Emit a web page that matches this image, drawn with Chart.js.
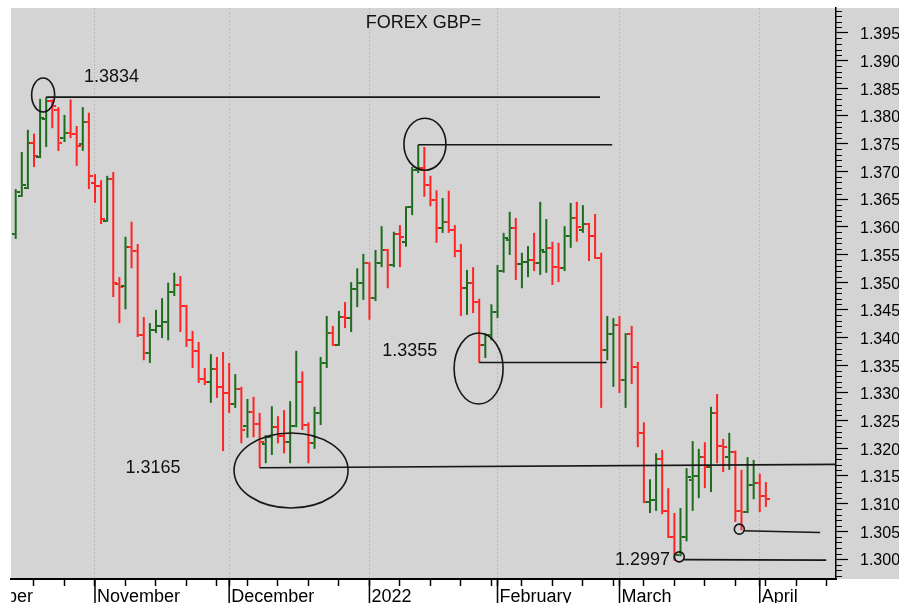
<!DOCTYPE html>
<html lang="en">
<head>
<meta charset="utf-8">
<title>FOREX GBP=</title>
<script src="https://cdn.jsdelivr.net/npm/chart.js@4.4.1/dist/chart.umd.min.js"></script>
<style>
    html, body { margin: 0; padding: 0; background: #ffffff; }
    canvas { display: block; }
</style>
</head>
<body>
<canvas id="graficoGbp" width="899" height="603"></canvas>
<script>
// Primer día hábil con barra (las barras van día hábil a día hábil)
const primerDia = '2021-10-13';

// OHLC diario
const aperturas = [
    1.3587, 1.3656, 1.3670, 1.3751, 1.3726, 1.3795, 1.3827, 1.3811, 1.3760, 1.3769, 1.3768, 1.3750, 1.3789,
    1.3679, 1.3674, 1.3610, 1.3686, 1.3497, 1.3493, 1.3564, 1.3556, 1.3405, 1.3372, 1.3414, 1.3421, 1.3428, 1.3482, 1.3495, 1.3457, 1.3395, 1.3376, 1.3325, 1.3320, 1.3343, 1.3311,
    1.3300, 1.3280, 1.3307, 1.3240, 1.3266, 1.3244, 1.3208, 1.3220, 1.3238, 1.3222, 1.3211, 1.3240, 1.3320, 1.3242, 1.3209, 1.3264, 1.3354, 1.3408, 1.3386, 1.3437, 1.3435, 1.3488, 1.3499,
    1.3534, 1.3471, 1.3534, 1.3558, 1.3531, 1.3587, 1.3573, 1.3636, 1.3703, 1.3706, 1.3675, 1.3648, 1.3598, 1.3609, 1.3594, 1.3556, 1.3489, 1.3499, 1.3464, 1.3386, 1.3405,
    1.3446, 1.3520, 1.3576, 1.3598, 1.3533, 1.3536, 1.3540, 1.3534, 1.3555, 1.3562, 1.3527, 1.3525, 1.3583, 1.3616, 1.3594, 1.3605, 1.3583, 1.3544, 1.3377, 1.3406,
    1.3423, 1.3323, 1.3406, 1.3347, 1.3228, 1.3103, 1.3107, 1.3181, 1.3087, 1.3040, 1.3007, 1.3040, 1.3143, 1.3150, 1.3184, 1.3166, 1.3264, 1.3204, 1.3184, 1.3193, 1.3087, 1.3085, 1.3134,
    1.3137, 1.3114
];
const maximos = [
    1.3668, 1.3735, 1.3775, 1.3768, 1.3831, 1.3834, 1.3830, 1.3816, 1.3802, 1.3830, 1.3782, 1.3816, 1.3806,
    1.3695, 1.3684, 1.3692, 1.3699, 1.3509, 1.3582, 1.3609, 1.3569, 1.3437, 1.3426, 1.3450, 1.3471, 1.3499, 1.3517, 1.3511, 1.3459, 1.3412, 1.3392, 1.3345, 1.3370, 1.3365, 1.3374,
    1.3354, 1.3334, 1.3311, 1.3289, 1.3293, 1.3264, 1.3224, 1.3276, 1.3258, 1.3269, 1.3285, 1.3376, 1.3339, 1.3247, 1.3275, 1.3365, 1.3439, 1.3421, 1.3448, 1.3464, 1.3500, 1.3525, 1.3551,
    1.3536, 1.3558, 1.3601, 1.3560, 1.3591, 1.3603, 1.3637, 1.3708, 1.3748, 1.3744, 1.3692, 1.3666, 1.3652, 1.3665, 1.3603, 1.3569, 1.3522, 1.3527, 1.3470, 1.3408, 1.3460,
    1.3531, 1.3589, 1.3627, 1.3616, 1.3553, 1.3565, 1.3589, 1.3645, 1.3614, 1.3573, 1.3571, 1.3601, 1.3643, 1.3645, 1.3639, 1.3607, 1.3623, 1.3553, 1.3439, 1.3435,
    1.3439, 1.3408, 1.3421, 1.3356, 1.3247, 1.3144, 1.3191, 1.3197, 1.3128, 1.3083, 1.3092, 1.3164, 1.3213, 1.3199, 1.3211, 1.3275, 1.3298, 1.3217, 1.3228, 1.3196, 1.3161, 1.3184, 1.3179,
    1.3154, 1.3139
];
const minimos = [
    1.3578, 1.3654, 1.3668, 1.3708, 1.3724, 1.3744, 1.3778, 1.3737, 1.3753, 1.3760, 1.3710, 1.3737, 1.3668,
    1.3643, 1.3605, 1.3609, 1.3473, 1.3426, 1.3451, 1.3525, 1.3401, 1.3359, 1.3354, 1.3408, 1.3399, 1.3395, 1.3475, 1.3410, 1.3383, 1.3345, 1.3318, 1.3314, 1.3282, 1.3291, 1.3195,
    1.3264, 1.3273, 1.3209, 1.3219, 1.3220, 1.3165, 1.3173, 1.3188, 1.3209, 1.3191, 1.3173, 1.3238, 1.3233, 1.3173, 1.3199, 1.3242, 1.3345, 1.3385, 1.3385, 1.3417, 1.3410, 1.3455, 1.3468,
    1.3432, 1.3466, 1.3527, 1.3489, 1.3527, 1.3527, 1.3564, 1.3621, 1.3697, 1.3654, 1.3637, 1.3571, 1.3589, 1.3589, 1.3545, 1.3439, 1.3441, 1.3444, 1.3355, 1.3363, 1.3395,
    1.3435, 1.3517, 1.3549, 1.3504, 1.3489, 1.3509, 1.3520, 1.3513, 1.3517, 1.3495, 1.3500, 1.3520, 1.3562, 1.3573, 1.3589, 1.3538, 1.3542, 1.3273, 1.3359, 1.3311,
    1.3300, 1.3273, 1.3316, 1.3202, 1.3101, 1.3083, 1.3087, 1.3081, 1.3038, 1.2997, 1.3005, 1.3032, 1.3087, 1.3110, 1.3128, 1.3121, 1.3173, 1.3157, 1.3161, 1.3067, 1.3052, 1.3083, 1.3108,
    1.3085, 1.3094
];
const cierres = [
    1.3663, 1.3675, 1.3751, 1.3728, 1.3797, 1.3827, 1.3818, 1.3751, 1.3769, 1.3768, 1.3746, 1.3789, 1.3692,
    1.3674, 1.3614, 1.3686, 1.3499, 1.3491, 1.3564, 1.3556, 1.3405, 1.3372, 1.3414, 1.3421, 1.3428, 1.3482, 1.3495, 1.3457, 1.3395, 1.3376, 1.3325, 1.3320, 1.3343, 1.3311, 1.3300,
    1.3280, 1.3307, 1.3233, 1.3266, 1.3244, 1.3211, 1.3220, 1.3238, 1.3222, 1.3211, 1.3240, 1.3320, 1.3242, 1.3209, 1.3264, 1.3354, 1.3408, 1.3386, 1.3437, 1.3435, 1.3488, 1.3499, 1.3534,
    1.3471, 1.3534, 1.3558, 1.3531, 1.3587, 1.3582, 1.3636, 1.3703, 1.3706, 1.3675, 1.3648, 1.3598, 1.3609, 1.3594, 1.3556, 1.3489, 1.3499, 1.3464, 1.3386, 1.3405, 1.3446,
    1.3520, 1.3580, 1.3598, 1.3533, 1.3536, 1.3540, 1.3534, 1.3558, 1.3562, 1.3527, 1.3525, 1.3583, 1.3616, 1.3600, 1.3605, 1.3583, 1.3544, 1.3377, 1.3406, 1.3423,
    1.3323, 1.3406, 1.3347, 1.3228, 1.3103, 1.3107, 1.3181, 1.3087, 1.3040, 1.3007, 1.3040, 1.3148, 1.3150, 1.3184, 1.3166, 1.3264, 1.3204, 1.3202, 1.3193, 1.3087, 1.3085, 1.3134, 1.3137,
    1.3114, 1.3108
];

// Eje temporal
const inicioMeses = ['2021-10-01', '2021-11-01', '2021-12-01', '2022-01-03', '2022-02-01', '2022-03-01', '2022-04-01'];
const etiquetasMeses = ['October', 'November', 'December', '2022', 'February', 'March', 'April'];
const primerLunes = '2021-10-11';
const ultimoLunes = '2022-04-18';

// Eje de precios
const ticksY = [1.300, 1.305, 1.310, 1.315, 1.320, 1.325, 1.330, 1.335, 1.340, 1.345,
                1.350, 1.355, 1.360, 1.365, 1.370, 1.375, 1.380, 1.385, 1.390, 1.395];

const titulo = 'FOREX GBP=';

// Anotaciones dibujadas a mano en el original (x en días hábiles, y en precio)
const lineasRef = [
    [5, 1.3834, 95.8, 1.3834],
    [66, 1.3748, 97.8, 1.3748],
    [76, 1.3355, 96.9, 1.3355],
    [40, 1.3165, 134.5, 1.3171],
    [119.3, 1.3051, 131.9, 1.3048],
    [109.5, 1.2999, 132.9, 1.2998]
];
const elipses = [
    [4.5, 1.3838, 11.5, 17],
    [67.1, 1.3749, 21, 26],
    [75.9, 1.3344, 24.5, 35.5],
    [45.15, 1.3160, 57, 37.5],
    [118.65, 1.3054, 5, 5],
    [108.8, 1.3004, 5, 5]
];
const textos = [
    ['1.3834', 11.2, 1.3871, 'left'],
    ['1.3355', 60.1, 1.3376, 'left'],
    ['1.3165', 18.0, 1.3165, 'left'],
    ['1.2997', 107.3, 1.2999, 'right']
];

const verde = '#1d6b1d';
const rojo = '#ff2424';
const fuente = 'Arial, "Liberation Sans", sans-serif';

// cuenta días hábiles desde primerDia (negativo si la fecha es anterior)
function indiceHabil(fecha) {
    const base = new Date(primerDia + 'T00:00:00Z');
    const fin = new Date(fecha + 'T00:00:00Z');
    const paso = fin >= base ? 1 : -1;
    const d = new Date(base);
    let n = 0;
    while (d.getTime() !== fin.getTime()) {
        d.setUTCDate(d.getUTCDate() + paso);
        const dia = d.getUTCDay();
        if (dia !== 0 && dia !== 6) n += paso;
    }
    return n;
}

const lunes = [];
for (let d = new Date(primerLunes + 'T00:00:00Z'); d <= new Date(ultimoLunes + 'T00:00:00Z'); d.setUTCDate(d.getUTCDate() + 7)) {
    lunes.push(d.toISOString().slice(0, 10));
}
const posMeses = inicioMeses.map(indiceHabil);
const ticksX = [...new Set(lunes.map(indiceHabil).concat(posMeses))].sort((a, b) => a - b);

// marcas de apertura (izquierda) y cierre (derecha)
function crearMarca(lado, color) {
    const c = document.createElement('canvas');
    c.width = 8;
    c.height = 2;
    const g = c.getContext('2d');
    g.fillStyle = color;
    g.fillRect(lado === 'izq' ? 0 : 5, 0, 3, 2);
    return c;
}
const marcas = {
    aperturaVerde: crearMarca('izq', verde),
    aperturaRoja: crearMarca('izq', rojo),
    cierreVerde: crearMarca('der', verde),
    cierreRojo: crearMarca('der', rojo)
};

const indices = aperturas.map((_, i) => i);
const subida = indices.map(i => cierres[i] >= aperturas[i]);
const colores = subida.map(s => s ? verde : rojo);

// Fondo gris del área del gráfico y del eje de precios
const fondo = {
    id: 'fondo',
    beforeDraw(chart) {
        const { ctx, chartArea } = chart;
        ctx.save();
        ctx.fillStyle = '#ffffff';
        ctx.fillRect(0, 0, chart.width, chart.height);
        ctx.fillStyle = '#d4d4d4';
        ctx.fillRect(chartArea.left, chartArea.top, chart.width - chartArea.left, chartArea.bottom - chartArea.top);
        ctx.restore();
    }
};

// Líneas, elipses, textos y título
const notas = {
    id: 'notas',
    afterDatasetsDraw(chart) {
        const { ctx, chartArea, scales: { x, y } } = chart;
        ctx.save();
        ctx.strokeStyle = '#161616';
        ctx.lineWidth = 1.6;
        lineasRef.forEach(([x1, y1, x2, y2]) => {
            ctx.beginPath();
            ctx.moveTo(x.getPixelForValue(x1), y.getPixelForValue(y1));
            ctx.lineTo(x.getPixelForValue(x2), y.getPixelForValue(y2));
            ctx.stroke();
        });
        elipses.forEach(([cx, cy, rx, ry]) => {
            ctx.beginPath();
            ctx.ellipse(x.getPixelForValue(cx), y.getPixelForValue(cy), rx, ry, 0, 0, Math.PI * 2);
            ctx.stroke();
        });
        ctx.fillStyle = '#111111';
        ctx.font = '18px ' + fuente;
        ctx.textBaseline = 'middle';
        textos.forEach(([t, tx, ty, alin]) => {
            ctx.textAlign = alin;
            ctx.fillText(t, x.getPixelForValue(tx), y.getPixelForValue(ty));
        });
        ctx.textAlign = 'center';
        ctx.fillText(titulo, (chartArea.left + chartArea.right) / 2, chartArea.top + 15);
        ctx.restore();
    }
};

// Marcas menores del eje de precios y separadores de mes bajo el eje
const ejes = {
    id: 'ejes',
    afterDraw(chart) {
        const { ctx, chartArea: a, scales: { x, y } } = chart;
        ctx.save();
        ctx.strokeStyle = '#000000';
        ctx.lineWidth = 1;
        for (let m = Math.ceil(y.min * 1000); m <= Math.floor(y.max * 1000); m++) {
            if (m % 5 === 0) continue;
            const py = Math.round(y.getPixelForValue(m / 1000)) + 0.5;
            ctx.beginPath();
            ctx.moveTo(a.right, py);
            ctx.lineTo(a.right + 6, py);
            ctx.stroke();
        }
        ctx.lineWidth = 1.5;
        posMeses.forEach(v => {
            const px = x.getPixelForValue(v);
            ctx.beginPath();
            ctx.moveTo(px, a.bottom);
            ctx.lineTo(px, chart.height);
            ctx.stroke();
        });
        ctx.fillStyle = '#ffffff';
        ctx.fillRect(0, a.bottom + 1, a.left, chart.height - a.bottom);
        ctx.restore();
    }
};

Chart.defaults.font.family = fuente;
Chart.defaults.color = '#000000';

new Chart(document.getElementById('graficoGbp'), {
    type: 'bar',
    data: {
        datasets: [
            {
                type: 'bar',
                label: 'Rango',
                data: indices.map(i => ({ x: i, y: [minimos[i], maximos[i]] })),
                backgroundColor: colores,
                borderWidth: 0,
                barThickness: 2,
                inflateAmount: 0,
                grouped: false,
                order: 2
            },
            {
                type: 'line',
                label: 'Apertura',
                data: indices.map(i => ({ x: i, y: aperturas[i] })),
                showLine: false,
                pointStyle: subida.map(s => s ? marcas.aperturaVerde : marcas.aperturaRoja),
                pointRadius: 2,
                pointHoverRadius: 2,
                order: 1
            },
            {
                type: 'line',
                label: 'Cierre',
                data: indices.map(i => ({ x: i, y: cierres[i] })),
                showLine: false,
                pointStyle: subida.map(s => s ? marcas.cierreVerde : marcas.cierreRojo),
                pointRadius: 2,
                pointHoverRadius: 2,
                order: 1
            }
        ]
    },
    options: {
        responsive: false,
        animation: false,
        devicePixelRatio: 1,
        layout: { padding: { left: 11, top: 8, right: 0, bottom: 0 } },
        plugins: {
            legend: { display: false },
            tooltip: { enabled: false },
            title: { display: false }
        },
        scales: {
            x: {
                type: 'linear',
                position: 'bottom',
                min: -0.77,
                max: 134.5,
                offset: false,
                afterBuildTicks: s => { s.ticks = ticksX.map(v => ({ value: v })); },
                afterFit: s => {
                    s.height = 24;
                    s.paddingLeft = 0; s.paddingRight = 0; s.paddingTop = 0; s.paddingBottom = 0;
                },
                grid: {
                    offset: false,
                    lineWidth: 1,
                    color: c => (c.tick && posMeses.includes(c.tick.value)) ? '#bcbcbc' : 'rgba(0,0,0,0)',
                    drawTicks: true,
                    tickLength: 7,
                    tickColor: '#000000',
                    tickWidth: 1.5
                },
                border: { display: true, color: '#000000', width: 2, dash: [2, 2] },
                ticks: {
                    autoSkip: false,
                    maxRotation: 0,
                    minRotation: 0,
                    align: 'start',
                    padding: 0,
                    labelOffset: 2,
                    font: { size: 18 },
                    color: '#000000',
                    callback: v => {
                        const j = posMeses.indexOf(v);
                        return j >= 0 ? etiquetasMeses[j] : '';
                    }
                }
            },
            y: {
                type: 'linear',
                position: 'right',
                min: 1.2964,
                max: 1.3995,
                beginAtZero: false,
                afterBuildTicks: s => { s.ticks = ticksY.map(v => ({ value: v })); },
                afterFit: s => {
                    s.width = 63;
                    s.paddingLeft = 0; s.paddingRight = 0; s.paddingTop = 0; s.paddingBottom = 0;
                },
                grid: {
                    drawOnChartArea: false,
                    drawTicks: true,
                    tickLength: 12,
                    tickColor: '#000000',
                    tickWidth: 1.2
                },
                border: { display: true, color: '#000000', width: 1.5 },
                ticks: {
                    padding: 12,
                    labelOffset: 2,
                    font: { size: 16 },
                    color: '#000000',
                    callback: v => v.toFixed(3)
                }
            }
        }
    },
    plugins: [fondo, notas, ejes]
});
</script>
</body>
</html>
